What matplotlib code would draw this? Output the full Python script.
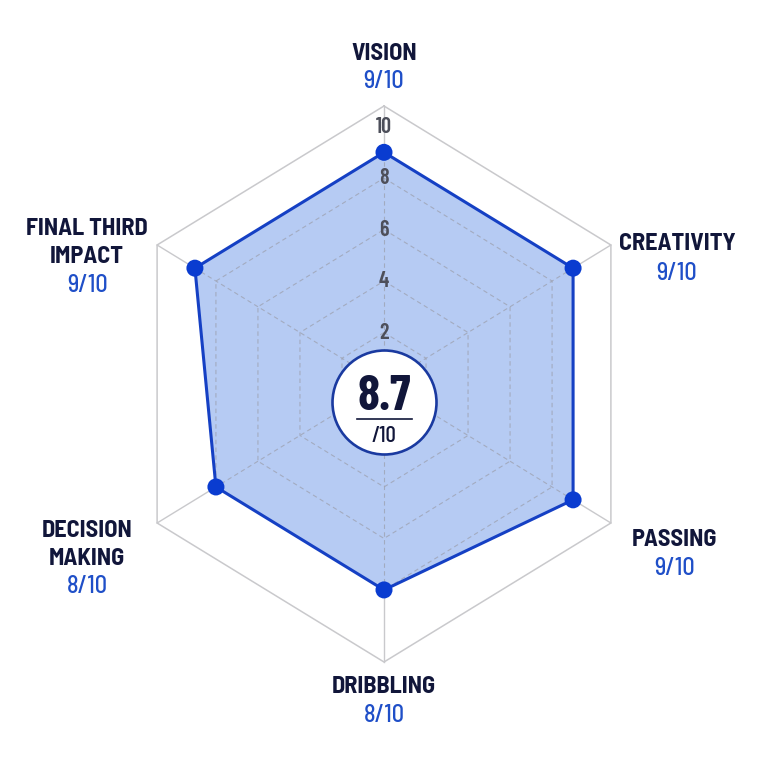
import numpy as np
import matplotlib
matplotlib.use("Agg")
import matplotlib.pyplot as plt

# ---------------- data ----------------
categories = ["VISION", "CREATIVITY", "PASSING", "DRIBBLING", "DECISION\nMAKING", "FINAL THIRD\nIMPACT"]
scores = [9, 9, 9, 8, 8, 9]
max_score = 10
ring_levels = [2, 4, 6, 8]
tick_labels = [2, 4, 6, 8, 10]

# ---------------- style ----------------
FRAME = 10.8          # radius of the outer (solid) hexagon frame, in score units
PX_X, PX_Y = 262.0, 278.0   # pixels per FRAME, horizontally / vertically
FILL = "#b6cbf3"
EDGE = "#1540c4"
DOT = "#0a3cd0"
NAVY = "#11163a"
VALBLUE = "#1f4fc8"
GRID = "#9ea3b3"
FRAMEC = "#c9c9cc"
FONT_C = ["Barlow Condensed", "DejaVu Sans"]
FONT_S = ["Barlow Semi Condensed", "Barlow Condensed", "DejaVu Sans"]
CAP = 8.5     # half cap height in pixels
LINE = 28.0   # line spacing in pixels

# label offsets in pixels from each frame vertex (up positive):
# (dx, cap-centre of first name line, cap-centre of value line)
label_layout = [(0, 55, 26.5), (66, 3.5, -26), (64, -15, -43.5),
                (0, -22.5, -52), (-70, -5, -61.5), (-70, 18.5, -38.5)]

fig = plt.figure(figsize=(7.68, 7.68), dpi=100)
fig.patch.set_facecolor("white")
ax = fig.add_axes([0, 0, 1, 1])
ax.set_xlim(-384 / PX_X * FRAME, 384 / PX_X * FRAME)
ax.set_ylim(-384 / PX_Y * FRAME, 384 / PX_Y * FRAME)
ax.axis("off")

def px(dx, dy):
    return dx * FRAME / PX_X, dy * FRAME / PX_Y

n = len(categories)
theta = np.arange(n) * 2 * np.pi / n
ux, uy = np.sin(theta), np.cos(theta)

def closed(r):
    r = np.broadcast_to(np.asarray(r, dtype=float), (n,))
    x = r * ux
    y = r * uy
    return np.append(x, x[0]), np.append(y, y[0])

vals = np.array(scores, dtype=float)

# filled area
fx, fy = closed(vals)
ax.fill(fx, fy, color=FILL, zorder=1, lw=0)

# dashed rings
for lv in ring_levels:
    gx, gy = closed(lv)
    ax.plot(gx, gy, ls=(0, (4, 3)), color=GRID, lw=0.8, zorder=2, alpha=0.8)

# outer frame
ox, oy = closed(FRAME)
ax.plot(ox, oy, color=FRAMEC, lw=1.1, zorder=2)

# spokes: dashed inside, solid light outside
for i in range(n):
    ax.plot([0, vals[i] * ux[i]], [0, vals[i] * uy[i]], ls=(0, (4, 3)), color=GRID, lw=0.8, zorder=2, alpha=0.8)
    ax.plot([vals[i] * ux[i], FRAME * ux[i]], [vals[i] * uy[i], FRAME * uy[i]], color=FRAMEC, lw=1.0, zorder=2)

# polygon edge and dots
ax.plot(fx, fy, color=EDGE, lw=2.2, zorder=3)
ax.scatter(vals * ux, vals * uy, s=150, color=DOT, zorder=4, edgecolors="none")

# tick labels along the vertical axis
for t in tick_labels:
    ax.text(0, t, str(t), ha="center", va="center", fontsize=16, color="#4d4f5a",
            family=FONT_C, fontweight="semibold", zorder=4)

# category labels
for i, cat in enumerate(categories):
    dx, ndy, vdy = label_layout[i]
    vx, vy = FRAME * ux[i], FRAME * uy[i]
    for k, line in enumerate(cat.split("\n")):
        ax.annotate(line, xy=(vx, vy), xytext=(dx, ndy - k * LINE - CAP), textcoords="offset pixels",
                    ha="center", va="baseline", fontsize=17.5, fontweight="bold", color=NAVY,
                    family=FONT_S)
    ax.annotate(f"{scores[i]}/{max_score}", xy=(vx, vy), xytext=(dx, vdy - CAP), textcoords="offset pixels",
                ha="center", va="baseline", fontsize=17.5, fontweight="medium", color=VALBLUE, family=FONT_S)

# centre badge
avg = np.mean(vals)
cx, cy = px(0, -18)
ax.scatter([cx], [cy], s=(104 * 0.72) ** 2, color="white", edgecolors="#1a3aa0", linewidths=1.9, zorder=6)
ax.text(*px(0, -26), f"{avg:.1f}", ha="center", va="baseline", fontsize=36, fontweight="bold",
        color=NAVY, family=FONT_C, zorder=7)
lx0, ly = px(-27.5, -35)
lx1, _ = px(27.5, -35)
ax.plot([lx0, lx1], [ly, ly], color=NAVY, lw=1.2, zorder=7)
ax.text(*px(0, -58), f"/{max_score}", ha="center", va="baseline", fontsize=16.5, color=NAVY,
        family=FONT_C, fontweight="medium", zorder=7)

fig.savefig("out.png", dpi=100, facecolor="white")
